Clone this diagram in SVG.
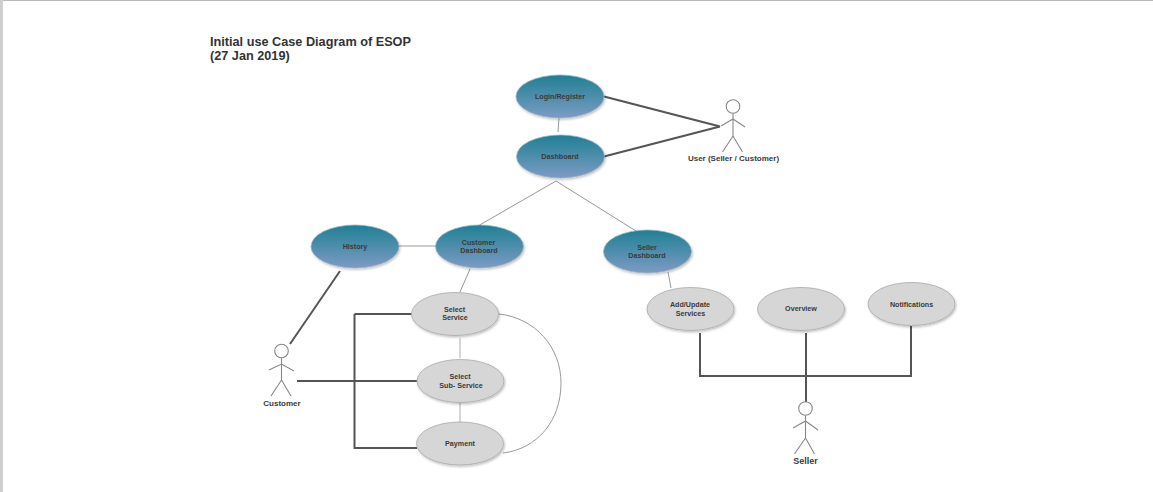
<svg xmlns="http://www.w3.org/2000/svg" width="1153" height="492" viewBox="0 0 1153 492">
<defs>
<linearGradient id="teal" x1="0" y1="0" x2="0" y2="1"><stop offset="0" stop-color="#1f8094"/><stop offset="1" stop-color="#7d9bc4"/></linearGradient>
<filter id="sh" x="-10%" y="-10%" width="125%" height="130%"><feDropShadow dx="1" dy="1.500" stdDeviation="1" flood-color="#000" flood-opacity="0.25"/></filter>
</defs>
<style>
.t{font-family:"Liberation Sans",Arial,sans-serif;font-weight:bold;font-size:7.150px;fill:#3a3a3a;text-anchor:middle}
.title{font-family:"Liberation Sans",Arial,sans-serif;font-weight:bold;font-size:12.700px;fill:#333}
.a{font-family:"Liberation Sans",Arial,sans-serif;font-weight:bold;font-size:8px;fill:#3a3a3a;text-anchor:middle}
.e1{fill:url(#teal);stroke:#9fb0bd;stroke-width:.7;filter:url(#sh)}
.e2{fill:#d6d6d6;stroke:#a8a8a8;stroke-width:.8;filter:url(#sh)}
.thick{fill:none;stroke:#555;stroke-width:2}
.thin{fill:none;stroke:#999;stroke-width:1}
.mid{fill:none;stroke:#bbb;stroke-width:1.200}
.act{fill:none;stroke:#888;stroke-width:1.100}
</style>
<rect width="1153" height="492" fill="#fff"/>
<rect width="1153" height="1" fill="#b8b8b8"/>
<rect width="3" height="492" fill="#cfcfcf"/>
<text class="title" x="210" y="46">Initial use Case Diagram of ESOP</text>
<text class="title" x="210" y="60">(27 Jan 2019)</text>
<g id="connectors">
<path class="thick" d="M604 96.500L720 126.500M604 156.500L720 126.500M340 271L290 344M354.500 314H412M354.500 314V448H417M297 381H417M700 333V376H911V326M806 333V402"/>
<path class="thin" d="M559 118L558 132M478 226L556 181L636 231M398 246H436M470 269L460 292M668 272L671 288"/>
<path class="mid" d="M460 338V358M460 403V422"/>
<path class="thin" d="M499 314C535 318 561 347 561 383C561 421 537 449 503 453"/>
</g>
<g id="login"><ellipse class="e1" cx="560" cy="96.500" rx="44" ry="21.500"/><text class="t" x="560" y="99">Login/Register</text></g>
<g id="dashboard"><ellipse class="e1" cx="560.500" cy="156.500" rx="44" ry="21.500"/><text class="t" x="560" y="159">Dashboard</text></g>
<g id="history"><ellipse class="e1" cx="355" cy="246.500" rx="44" ry="21.500"/><text class="t" x="355" y="249">History</text></g>
<g id="customer-dashboard"><ellipse class="e1" cx="479.500" cy="246.500" rx="44" ry="21.500"/><text class="t" x="478.500" y="245">Customer</text><text class="t" x="479" y="253">Dashboard</text></g>
<g id="seller-dashboard"><ellipse class="e1" cx="647.500" cy="251.500" rx="44" ry="21.500"/><text class="t" x="647" y="250">Seller</text><text class="t" x="647" y="258">Dashboard</text></g>
<g id="select-service"><ellipse class="e2" cx="455" cy="314" rx="43.500" ry="21.500"/><text class="t" x="454.500" y="312">Select</text><text class="t" x="455" y="320">Service</text></g>
<g id="select-sub-service"><ellipse class="e2" cx="460.500" cy="381" rx="43.500" ry="21.500"/><text class="t" x="460" y="379">Select</text><text class="t" x="461" y="388">Sub- Service</text></g>
<g id="payment"><ellipse class="e2" cx="460" cy="443.500" rx="43.500" ry="21.500"/><text class="t" x="460" y="446">Payment</text></g>
<g id="add-update"><ellipse class="e2" cx="690.500" cy="309" rx="43.500" ry="21.500"/><text class="t" x="690" y="307">Add/Update</text><text class="t" x="690.500" y="316">Services</text></g>
<g id="overview"><ellipse class="e2" cx="801" cy="309" rx="43.500" ry="21.500"/><text class="t" x="801" y="311">Overview</text></g>
<g id="notifications"><ellipse class="e2" cx="911.500" cy="304" rx="43.500" ry="21.500"/><text class="t" x="911.500" y="307">Notifications</text></g>
<g id="actor-user"><circle class="act" cx="733" cy="106.500" r="6.800"/><path class="act" d="M733 113.500V136M721 126L733 119L745 127M733 136L722.500 152M733 136L742.500 152"/><text class="a" x="733.500" y="161">User (Seller / Customer)</text></g>
<g id="actor-customer"><circle class="act" cx="281.500" cy="351" r="6.800"/><path class="act" d="M281.500 358V380M269 370L281.500 364L294 371M281.500 380L271 396M281.500 380L291 396"/><text class="a" x="282" y="406">Customer</text></g>
<g id="actor-seller"><circle class="act" cx="805.500" cy="408.500" r="6.800"/><path class="act" d="M805.500 415.500V438M793 428L805.500 421L818 430M805.500 438L794.500 454M805.500 438L814.500 454"/><text class="a" style="font-size:9px" x="805.500" y="464">Seller</text></g>
</svg>
